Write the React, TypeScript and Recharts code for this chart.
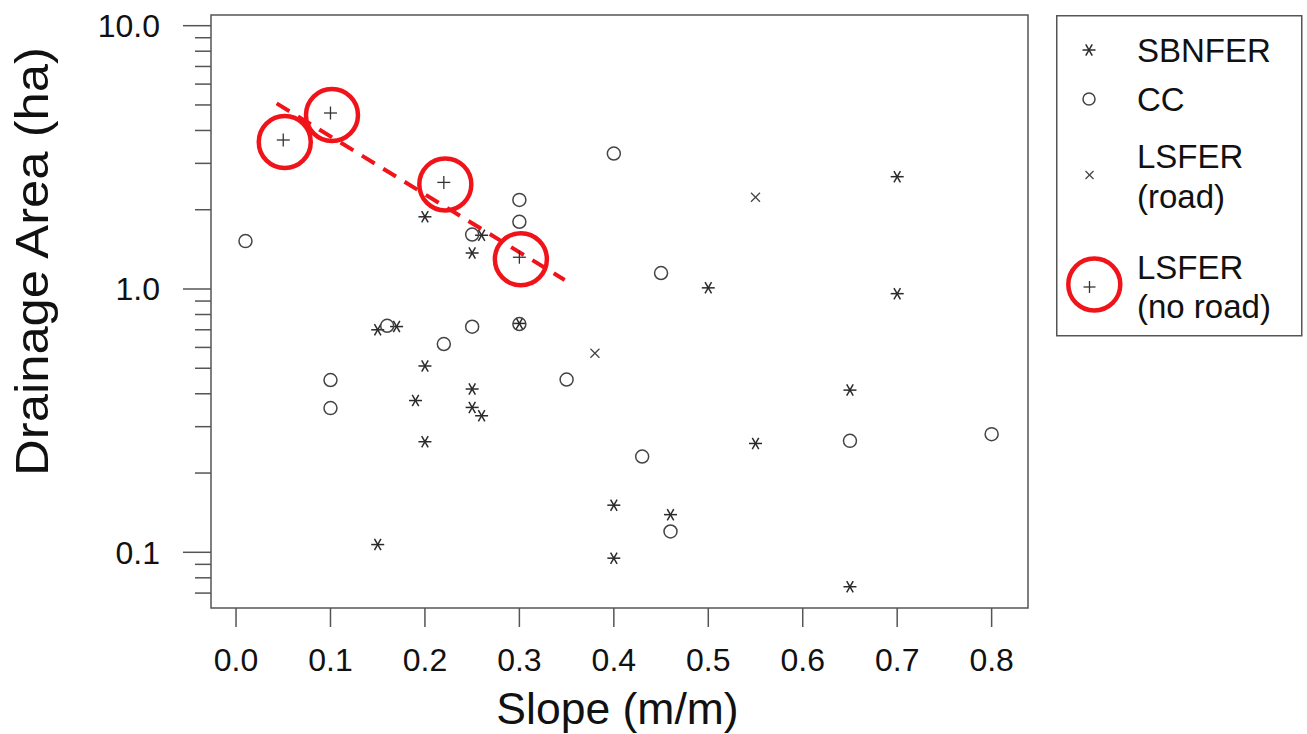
import React from 'react';
import { ScatterChart, Scatter, XAxis, YAxis, ReferenceLine, ReferenceArea, Legend, Label } from 'recharts';

const FONT = '"Liberation Sans", Arial, Helvetica, sans-serif';

// ---- data ----
const sbnferSlope = [0.2, 0.26, 0.25, 0.3, 0.15, 0.17, 0.2, 0.19, 0.25, 0.25, 0.26, 0.2, 0.15, 0.4, 0.4, 0.7, 0.5, 0.7, 0.46, 0.55, 0.65, 0.65];
const sbnferArea = [1.88, 1.6, 1.37, 0.74, 0.7, 0.72, 0.51, 0.377, 0.417, 0.355, 0.33, 0.263, 0.107, 0.151, 0.095, 2.67, 1.01, 0.96, 0.139, 0.259, 0.413, 0.074];

const ccSlope = [0.01, 0.3, 0.3, 0.25, 0.4, 0.45, 0.16, 0.25, 0.3, 0.22, 0.1, 0.1, 0.35, 0.43, 0.46, 0.65, 0.8];
const ccArea = [1.52, 2.18, 1.8, 1.61, 3.27, 1.15, 0.725, 0.719, 0.736, 0.618, 0.451, 0.353, 0.453, 0.231, 0.12, 0.265, 0.281];

const roadSlope = [0.55, 0.38];
const roadArea = [2.23, 0.57];

const noRoadSlope = [0.05, 0.1, 0.22, 0.3];
const noRoadArea = [3.68, 4.66, 2.54, 1.32];

const trendSlope = [0.043, 0.348];
const trendArea = [5.07, 1.082];

const xTicks = [0, 0.1, 0.2, 0.3, 0.4, 0.5, 0.6, 0.7, 0.8];
const yTicks = [0.07, 0.08, 0.09, 0.1, 0.2, 0.3, 0.4, 0.5, 0.6, 0.7, 0.8, 0.9, 1, 2, 3, 4, 5, 6, 7, 8, 9, 10];
const yMajorTicks = [0.1, 1, 10];
const yMajorLabels = ['0.1', '1.0', '10.0'];

const seriesNames = ['SBNFER', 'CC', 'LSFER (road)', 'LSFER (no road)'];

const X_DOMAIN: [number, number] = [-0.0265, 0.8385];
const Y_DOMAIN: [number, number] = [0.06144, 10.98];

const zip = (xs: number[], ys: number[]) => xs.map((x, i) => ({ x, y: ys[i] }));

const RED = '#f0141a';
const MARK = '#2a2a2a';

const Asterisk = ({ cx, cy, s = 6.5 }: any) => {
  const a = s * Math.cos(Math.PI / 3);
  const b = s * Math.sin(Math.PI / 3);
  return (
    <g stroke={MARK} strokeWidth={1.5}>
      <line x1={cx - s} y1={cy} x2={cx + s} y2={cy} />
      <line x1={cx - a} y1={cy - b} x2={cx + a} y2={cy + b} />
      <line x1={cx - a} y1={cy + b} x2={cx + a} y2={cy - b} />
    </g>
  );
};
const Ring = ({ cx, cy, r = 6.5 }: any) => (
  <circle cx={cx} cy={cy} r={r} fill="none" stroke="#444" strokeWidth={1.5} />
);
const Cross = ({ cx, cy, s = 4.5 }: any) => (
  <g stroke="#444" strokeWidth={1.2}>
    <line x1={cx - s} y1={cy - s} x2={cx + s} y2={cy + s} />
    <line x1={cx - s} y1={cy + s} x2={cx + s} y2={cy - s} />
  </g>
);
const Plus = ({ cx, cy, s = 6.5 }: any) => (
  <g stroke="#333" strokeWidth={1.3}>
    <line x1={cx - s} y1={cy} x2={cx + s} y2={cy} />
    <line x1={cx} y1={cy - s} x2={cx} y2={cy + s} />
  </g>
);
const PlusCircled = ({ cx, cy }: any) => (
  <g>
    <Plus cx={cx} cy={cy} />
    <circle cx={cx + 1.5} cy={cy + 2} r={26} fill="none" stroke={RED} strokeWidth={4.5} />
  </g>
);

const YTick = (props: any) => {
  const { x, y, payload } = props;
  const idx = yMajorTicks.indexOf(payload.value);
  const major = idx >= 0;
  return (
    <g>
      <line x1={x - (major ? 28 : 16)} x2={x} y1={y} y2={y} stroke="#555" strokeWidth={1.5} />
      {major && (
        <text x={x - 51} y={y + 11.5} textAnchor="end" fontSize={32} fontFamily={FONT} fill="#111">
          {yMajorLabels[idx]}
        </text>
      )}
    </g>
  );
};

const XTick = (props: any) => {
  const { x, y, payload } = props;
  return (
    <g>
      <line x1={x} x2={x} y1={y} y2={y + 19} stroke="#555" strokeWidth={1.5} />
      <text x={x} y={y + 63} textAnchor="middle" fontSize={32} fontFamily={FONT} fill="#111">
        {Number(payload.value).toFixed(1)}
      </text>
    </g>
  );
};

const XTitle = (props: any) => {
  const vb = props.viewBox || {};
  return (
    <text x={vb.x + vb.width / 2 - 2} y={vb.y + 116} textAnchor="middle" fontSize={44.5} fontFamily={FONT} fill="#111">
      Slope (m/m)
    </text>
  );
};

const YTitle = (props: any) => {
  const vb = props.viewBox || {};
  const cy = vb.y + vb.height / 2 - 50;
  return (
    <text
      transform={`translate(48, ${cy}) rotate(-90) scale(1.08, 1)`}
      x={0}
      y={0}
      textAnchor="middle"
      fontSize={47}
      fontFamily={FONT}
      fill="#111"
    >
      Drainage Area (ha)
    </text>
  );
};

const LegendBox = () => {
  const txt = { fontSize: 33, fontFamily: FONT, fill: '#111' } as any;
  return (
    <svg width={247} height={322} style={{ display: 'block' }}>
      <rect x={0.75} y={0.75} width={245} height={320} fill="#fff" stroke="#555" strokeWidth={1.5} />
      <Asterisk cx={33} cy={35} />
      <text x={81} y={46.5} {...txt}>{seriesNames[0]}</text>
      <Ring cx={33} cy={84} r={6} />
      <text x={81} y={95.5} {...txt}>{seriesNames[1]}</text>
      <Cross cx={33.5} cy={160} s={4} />
      <text x={81} y={152.5} {...txt}>LSFER</text>
      <text x={81} y={192.5} {...txt}>(road)</text>
      <Plus cx={33.5} cy={272} s={6} />
      <circle cx={38.3} cy={269.5} r={26} fill="none" stroke={RED} strokeWidth={4.5} />
      <text x={81} y={263.5} {...txt}>LSFER</text>
      <text x={81} y={302.5} {...txt}>(no road)</text>
    </svg>
  );
};

export default function App() {
  return (
    <div style={{ position: 'absolute', left: 0, top: 0, width: 1307, height: 734, background: '#fff' }}>
      <ScatterChart width={1307} height={734} margin={{ top: 15, right: 279, bottom: 66, left: 0 }}>
        <XAxis
          type="number"
          dataKey="x"
          domain={X_DOMAIN}
          allowDataOverflow
          ticks={xTicks}
          interval={0}
          tickSize={0}
          tickMargin={0}
          tickLine={false}
          axisLine={false}
          tick={<XTick />}
          height={60}
        >
          <Label content={<XTitle />} />
        </XAxis>
        <YAxis
          type="number"
          dataKey="y"
          scale="log"
          domain={Y_DOMAIN}
          allowDataOverflow
          ticks={yTicks}
          interval={0}
          tickSize={0}
          tickMargin={0}
          tickLine={false}
          axisLine={false}
          tick={<YTick />}
          width={211}
        >
          <Label content={<YTitle />} />
        </YAxis>
        <ReferenceArea
          x1={X_DOMAIN[0]}
          x2={X_DOMAIN[1]}
          y1={Y_DOMAIN[0]}
          y2={Y_DOMAIN[1]}
          fill="none"
          stroke="#555"
          strokeWidth={1.5}
          ifOverflow="visible"
        />
        <Scatter name={seriesNames[0]} data={zip(sbnferSlope, sbnferArea)} shape={<Asterisk />} isAnimationActive={false} />
        <Scatter name={seriesNames[1]} data={zip(ccSlope, ccArea)} shape={<Ring />} isAnimationActive={false} />
        <Scatter name={seriesNames[2]} data={zip(roadSlope, roadArea)} shape={<Cross />} isAnimationActive={false} />
        <Scatter name={seriesNames[3]} data={zip(noRoadSlope, noRoadArea)} shape={<PlusCircled />} isAnimationActive={false} />
        <ReferenceLine
          segment={zip(trendSlope, trendArea)}
          stroke={RED}
          strokeWidth={4}
          strokeDasharray="15 10"
          ifOverflow="visible"
        />
        <Legend
          layout="horizontal"
          verticalAlign="middle"
          align="center"
          wrapperStyle={{ position: 'absolute', left: 1056, top: 15, width: 247, height: 322, margin: 0, padding: 0 }}
          content={() => <LegendBox />}
        />
      </ScatterChart>
    </div>
  );
}
